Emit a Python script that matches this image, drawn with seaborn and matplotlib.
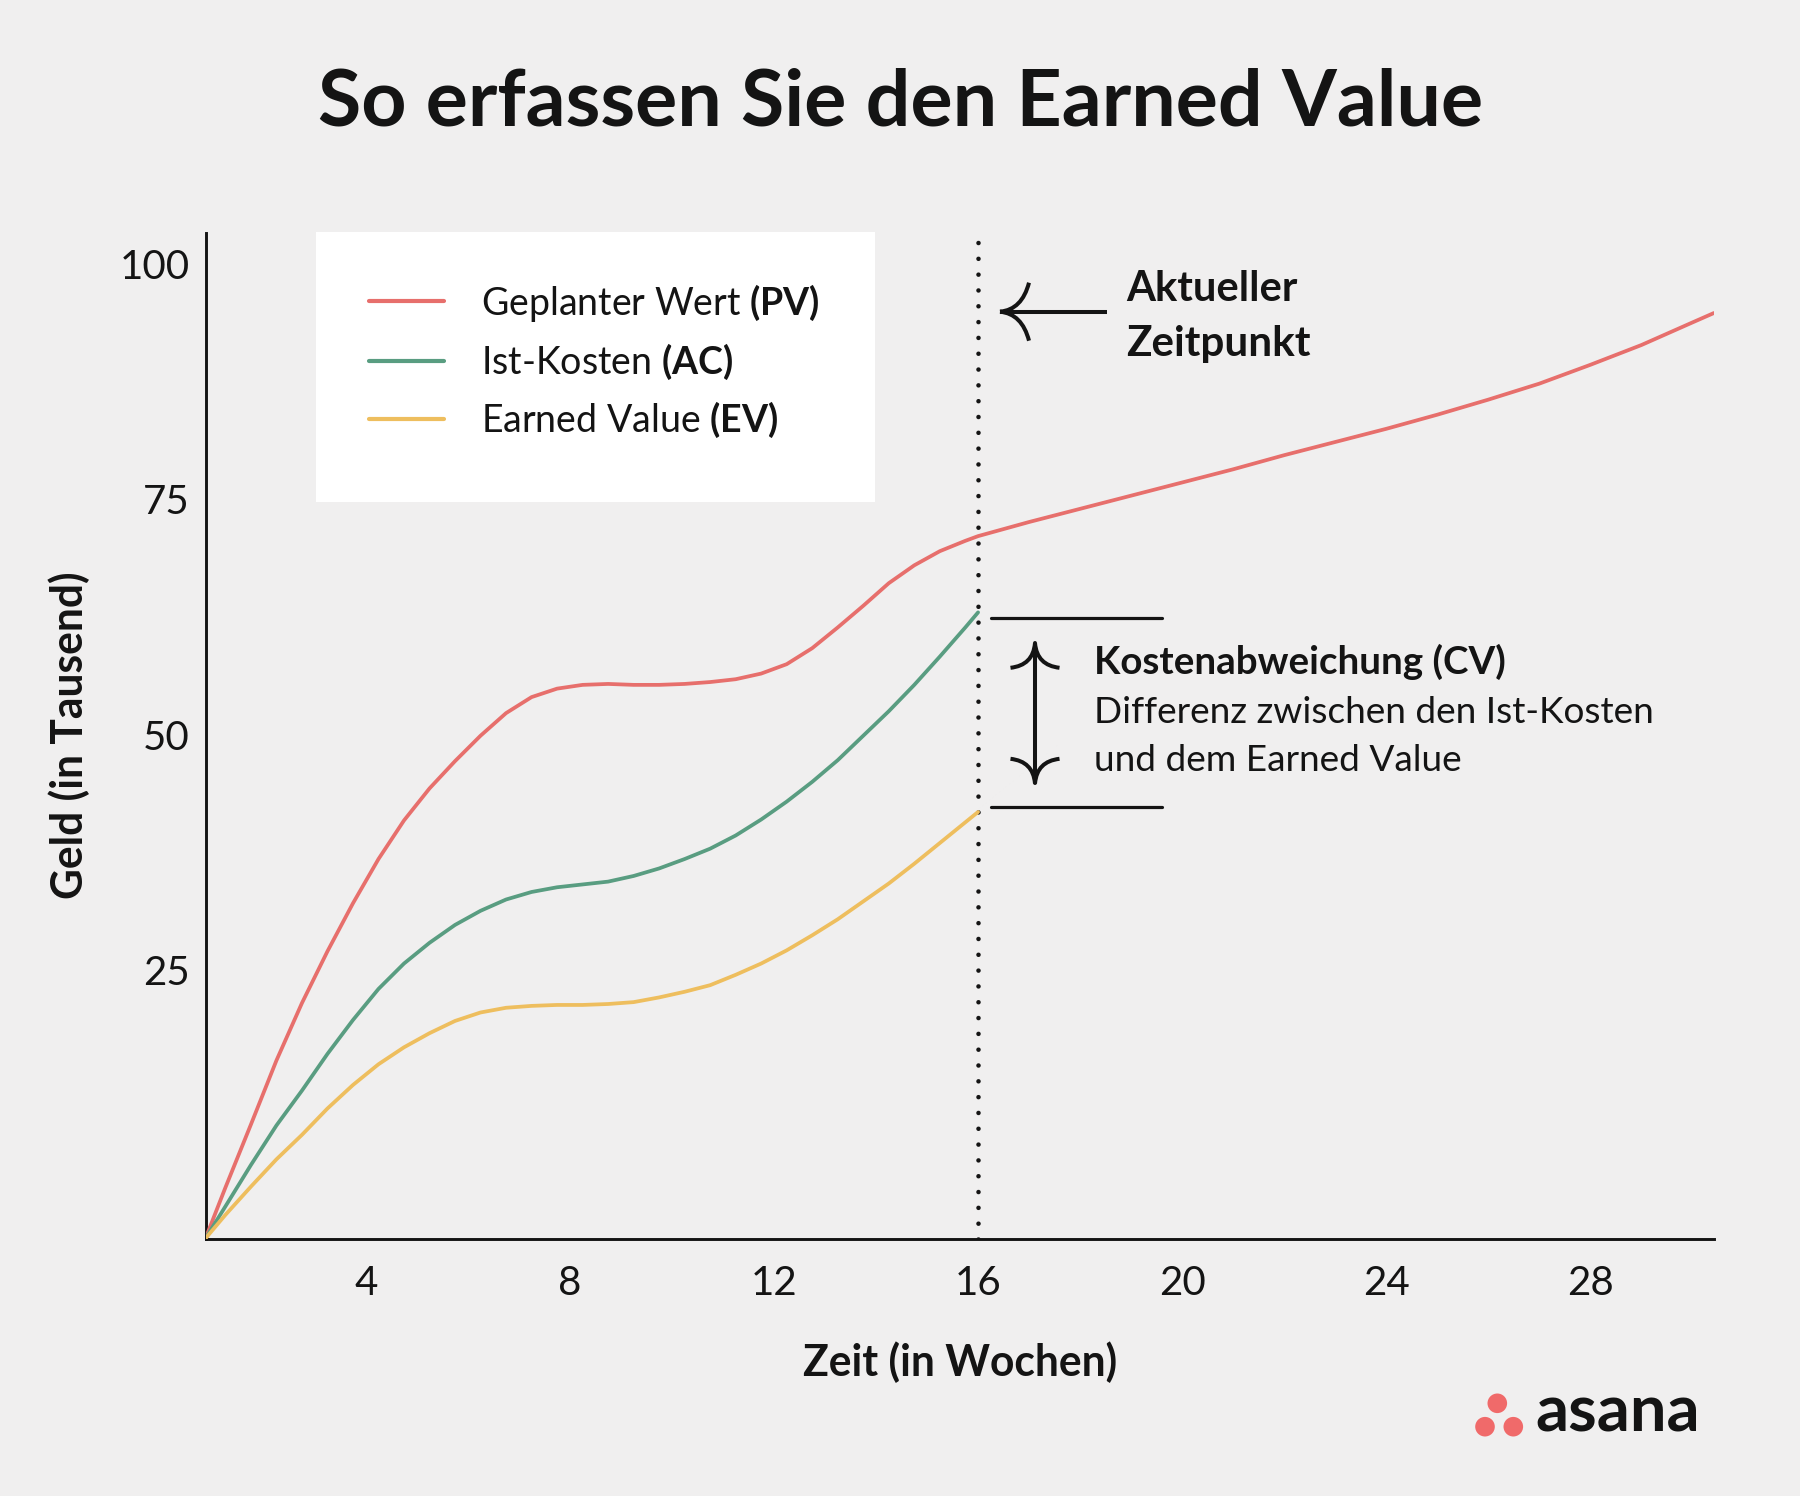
import numpy as np
import pandas as pd
import seaborn as sns
import matplotlib
matplotlib.use("Agg")
import matplotlib.pyplot as plt
from matplotlib.lines import Line2D
from matplotlib.patches import Rectangle, PathPatch, Circle
from matplotlib.path import Path
import matplotlib.transforms as mtransforms

# ---------------- data ----------------
weeks = [0.86, 1.25, 1.75, 2.25, 2.75, 3.25, 3.75, 4.25, 4.75, 5.25, 5.75,
         6.25, 6.75, 7.25, 7.75, 8.25, 8.75, 9.25, 9.75, 10.25, 10.75,
         11.25, 11.75, 12.25, 12.75, 13.25, 13.75, 14.25, 14.75, 15.25,
         15.75, 16.0]
pv = [-3.5, 1.9, 8.6, 15.4, 21.5, 27.0, 32.1, 36.8, 40.9, 44.3, 47.2,
      49.9, 52.3, 54.0, 54.9, 55.3, 55.4, 55.3, 55.3, 55.4, 55.6,
      55.9, 56.5, 57.5, 59.2, 61.4, 63.7, 66.1, 68.0, 69.5,
      70.6, 71.1]
ac = [-3.5, -0.1, 4.3, 8.5, 12.2, 16.1, 19.7, 23.0, 25.7, 27.9, 29.8,
      31.3, 32.5, 33.3, 33.8, 34.1, 34.4, 35.0, 35.8, 36.8, 37.9,
      39.3, 41.0, 42.9, 45.0, 47.3, 49.9, 52.5, 55.3, 58.3,
      61.4, 63.0]
ev = [-3.5, -1.0, 2.0, 4.9, 7.5, 10.3, 12.8, 15.0, 16.8, 18.3, 19.6,
      20.5, 21.0, 21.2, 21.3, 21.3, 21.4, 21.6, 22.1, 22.7, 23.4,
      24.5, 25.7, 27.1, 28.7, 30.4, 32.3, 34.2, 36.3, 38.5,
      40.7, 41.8]
weeks_late = [16.5, 17, 17.5, 18, 19, 20, 21, 22, 23, 24, 25, 26, 27, 28,
              29, 30, 30.42]
pv_late = [71.85, 72.6, 73.3, 74.0, 75.4, 76.8, 78.2, 79.7, 81.1, 82.5, 84.0,
           85.6, 87.3, 89.3, 91.4, 93.8, 94.8]

series_names = ["PV", "AC", "EV"]
legend_labels = ["Geplanter Wert $\\mathbf{(PV)}$",
                 "Ist-Kosten $\\mathbf{(AC)}$",
                 "Earned Value $\\mathbf{(EV)}$"]
x_ticks = [4, 8, 12, 16, 20, 24, 28]
y_ticks = [25, 50, 75, 100]
current_week = 16

title = "So erfassen Sie den Earned Value"
x_label = "Zeit (in Wochen)"
y_label = "Geld (in Tausend)"
now_label = ["Aktueller", "Zeitpunkt"]
cv_title = "Kostenabweichung (CV)"
cv_lines = ["Differenz zwischen den Ist-Kosten", "und dem Earned Value"]

# ---------------- styling ----------------
BG = "#F0EFEF"
INK = "#141414"
colors = {"PV": "#E76F6C", "AC": "#599D81", "EV": "#EEBE5E"}

sns.set_theme(style="white")
plt.rcParams["font.family"] = ["Lato", "DejaVu Sans"]
plt.rcParams["mathtext.fontset"] = "custom"
plt.rcParams["mathtext.rm"] = "Lato"
plt.rcParams["mathtext.bf"] = "Lato:bold"
plt.rcParams["mathtext.it"] = "Lato:italic"

W, H = 1800, 1496
fig = plt.figure(figsize=(W / 100, H / 100), dpi=100, facecolor=BG)


def fx(px):
    return px / W


def fy(py):
    return 1 - py / H


ax_left, ax_right, ax_top, ax_bottom = 205.5, 1713.9, 233.0, 1238.6
ax = fig.add_axes([fx(ax_left), fy(ax_bottom), (ax_right - ax_left) / W,
                   (ax_bottom - ax_top) / H])
ax.set_facecolor("none")

df = pd.concat([
    pd.DataFrame({"Woche": weeks + weeks_late, "Wert": pv + pv_late, "Reihe": "PV"}),
    pd.DataFrame({"Woche": weeks, "Wert": ac, "Reihe": "AC"}),
    pd.DataFrame({"Woche": weeks, "Wert": ev, "Reihe": "EV"}),
], ignore_index=True)

sns.lineplot(data=df, x="Woche", y="Wert", hue="Reihe", hue_order=series_names,
             palette=colors, estimator=None, sort=True, linewidth=2.7,
             legend=False, ax=ax, zorder=3)
for ln in ax.get_lines():
    ln.set_solid_joinstyle("round")
    ln.set_solid_capstyle("round")

ax.set_xlim(weeks[0], weeks_late[-1])
ax.set_ylim(-3.52, 103.3)
ax.set_xticks(x_ticks)
ax.set_yticks(y_ticks)
ax.set_xticklabels([str(t) for t in x_ticks])
ax.set_yticklabels([str(t) for t in y_ticks])
ax.tick_params(axis="both", length=0, labelsize=29, colors=INK)
ax.tick_params(axis="x", pad=19)
ax.tick_params(axis="y", pad=11.5)
ax.set_xlabel("")
ax.set_ylabel("")
for side in ["top", "right"]:
    ax.spines[side].set_visible(False)
for side in ["left", "bottom"]:
    ax.spines[side].set_color(INK)
    ax.spines[side].set_linewidth(2.1)
ax.grid(False)

# current-time dotted line
ax.plot([current_week, current_week], [-3.52, 102.6], color=INK, lw=3.3,
        linestyle=(0, (0.001, 3.45)), dash_capstyle="round", zorder=2)

# ---------------- arrows with curved barbs ----------------
def curved_head(tip_xy_data, direction, size=0.29, lw=2.9):
    dx, dy = direction
    px_, py_ = -dy, dx
    verts, codes = [], []
    for s in (1, -1):
        ctrl = (0.22 * dx + s * 0.02 * px_, 0.22 * dy + s * 0.02 * py_)
        end = (size * dx + s * size * px_, size * dy + s * size * py_)
        verts += [end, ctrl, (0, 0)]
        codes += [Path.MOVETO, Path.CURVE3, Path.CURVE3]
    trans = fig.dpi_scale_trans + mtransforms.ScaledTranslation(
        tip_xy_data[0], tip_xy_data[1], ax.transData)
    patch = PathPatch(Path(verts, codes), facecolor="none", edgecolor=INK,
                      lw=lw, transform=trans, capstyle="butt", zorder=4,
                      clip_on=False)
    ax.add_patch(patch)


def data_from_px(x_px, y_px):
    inv = ax.transData.inverted()
    return inv.transform((x_px, H - y_px))

# "Aktueller Zeitpunkt" arrow
tip = data_from_px(1000, 311.7)
tail = data_from_px(1106.7, 311.7)
ax.plot([tip[0], tail[0]], [tip[1], tail[1]], color=INK, lw=2.9, zorder=4,
        clip_on=False, solid_capstyle="butt")
curved_head(tip, (1, 0))

# CV double arrow
top_tip = data_from_px(1035, 643.3)
bot_tip = data_from_px(1035, 783.3)
ax.plot([top_tip[0], bot_tip[0]], [top_tip[1], bot_tip[1]], color=INK, lw=2.9,
        zorder=4, clip_on=False)
curved_head(top_tip, (0, -1), size=0.245)
curved_head(bot_tip, (0, 1), size=0.245)

# CV bracket lines at the AC / EV values at the current week
l0 = data_from_px(990.8, 0)[0]
l1 = data_from_px(1161.7, 0)[0]
ax.plot([l0, l1], [ac[-1] - 0.6, ac[-1] - 0.6], color=INK, lw=2.3, zorder=4)
ax.plot([l0, l1], [ev[-1] + 0.5, ev[-1] + 0.5], color=INK, lw=2.3, zorder=4)

# ---------------- legend ----------------
fig.patches.append(Rectangle((fx(315.7), fy(501.7)), (874.8 - 315.7) / W,
                             (501.7 - 231.9) / H, transform=fig.transFigure,
                             facecolor="white", edgecolor="none", zorder=1))
handles = [Line2D([0], [0], color=colors[s], lw=3.0) for s in series_names]
fig.legend(handles, legend_labels, loc="upper left",
           bbox_to_anchor=(fx(368.5), fy(281.5)), frameon=False, fontsize=27,
           handlelength=2.0, handletextpad=1.0, labelspacing=0.49,
           borderpad=0, borderaxespad=0, labelcolor=INK)

# ---------------- texts ----------------
texts_to_fit = []
t = fig.text(fx(901), fy(125), title, ha="center", va="baseline",
             fontsize=52, fontweight="bold", color=INK)
texts_to_fit.append((t, 1165))
t = fig.text(fx(960), fy(1362), x_label, ha="center", va="center",
             fontsize=28, fontweight="bold", color=INK)
texts_to_fit.append((t, 315))
t = fig.text(fx(69), fy(735), y_label, ha="center", va="center",
             rotation=90, fontsize=28, fontweight="bold", color=INK)
texts_to_fit.append((t, 328))
t = fig.text(fx(1126), fy(301), now_label[0], ha="left", va="baseline",
             fontsize=28, fontweight="bold", color=INK)
texts_to_fit.append((t, 171))
t = fig.text(fx(1126), fy(356), now_label[1], ha="left", va="baseline",
             fontsize=28, fontweight="bold", color=INK)
texts_to_fit.append((t, 184))
t = fig.text(fx(1094), fy(673.5), cv_title, ha="left", va="baseline",
             fontsize=25, fontweight="bold", color=INK)
texts_to_fit.append((t, 412))
t = fig.text(fx(1094), fy(723.3), cv_lines[0], ha="left", va="baseline",
             fontsize=25, color=INK)
texts_to_fit.append((t, 562))
t2 = fig.text(fx(1094), fy(771), cv_lines[1], ha="left", va="baseline",
              fontsize=25, color=INK)
t = fig.text(fx(1535), fy(1431.7), "asana", ha="left", va="baseline",
             fontsize=40, fontweight="bold", color=INK)
texts_to_fit.append((t, 164))

fig.canvas.draw()
renderer = fig.canvas.get_renderer()
for txt, target in texts_to_fit:
    bb = txt.get_window_extent(renderer)
    size = bb.height if txt.get_rotation() == 90 else bb.width
    txt.set_fontsize(txt.get_fontsize() * target / size)
    if txt.get_text() == cv_lines[0]:
        t2.set_fontsize(txt.get_fontsize())

# asana logo dots
for cx, cy in [(1497.3, 1403.3), (1485.0, 1426.7), (1513.3, 1426.7)]:
    fig.patches.append(Circle((cx / 100, (H - cy) / 100), 0.098,
                              transform=fig.dpi_scale_trans,
                              facecolor="#F06A6A", edgecolor="none"))

fig.savefig("out.png", dpi=100, facecolor=BG)
